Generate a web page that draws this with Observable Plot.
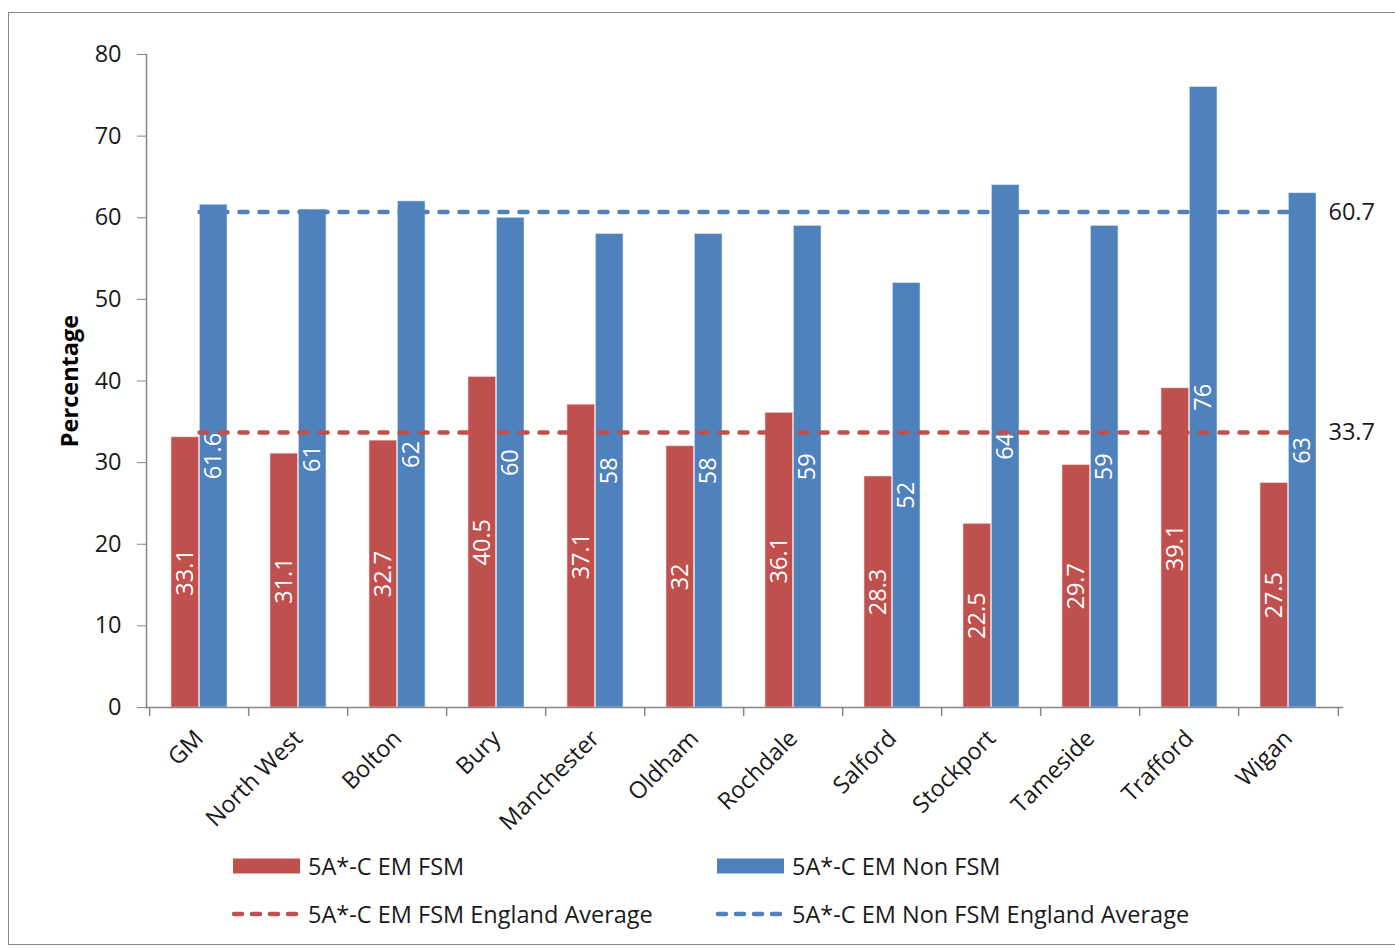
<!DOCTYPE html>
<html>
<head>
<meta charset="utf-8">
<script src="https://cdn.jsdelivr.net/npm/d3@7"></script>
<script src="https://cdn.jsdelivr.net/npm/@observablehq/plot@0.6"></script>
<style>
  html, body { margin: 0; padding: 0; background: #fff; }
  body { width: 1395px; height: 949px; position: relative; overflow: hidden; font-family: "Open Sans", sans-serif; }
  #frame { position: absolute; left: 8px; top: 12px; width: 1400px; height: 933px; border: 1.5px solid #8a8a8a; box-sizing: border-box; }
  #chart { position: absolute; left: 0; top: 0; }
  .leg { position: absolute; display: flex; align-items: center; font-size: 23.5px; color: #1a1a1a; white-space: nowrap; }
  .leg svg { margin-right: 5px; }
</style>
</head>
<body>
<div id="frame"></div>
<div id="chart"></div>
<div id="legend"></div>
<script>
// ---- data ----
const categories = ["GM", "North West", "Bolton", "Bury", "Manchester", "Oldham", "Rochdale", "Salford", "Stockport", "Tameside", "Trafford", "Wigan"];
const fsm = [33.1, 31.1, 32.7, 40.5, 37.1, 32, 36.1, 28.3, 22.5, 29.7, 39.1, 27.5];
const nonFsm = [61.6, 61, 62, 60, 58, 58, 59, 52, 64, 59, 76, 63];
const averages = [33.7, 60.7];
const seriesNames = ["5A*-C EM FSM", "5A*-C EM Non FSM"];
const averageNames = ["5A*-C EM FSM England Average", "5A*-C EM Non FSM England Average"];
const yTicks = [0, 10, 20, 30, 40, 50, 60, 70, 80];
const colors = ["#C0504D", "#4F81BD"];

// ---- layout ----
const W = 1395, H = 830;
const mL = 146, mR = 53, mT = 54, mB = 123;
const step = (W - mL - mR) / categories.length;
const pInner = 0.43;
const bw = step * (1 - pInner);
const pxPerUnit = (H - mT - mB) / 80;
const fs = 23.5;

const rows = categories.map((c, i) => ({cat: c, fsm: fsm[i], non: nonFsm[i]}));
const first = categories[0], last = categories[categories.length - 1];
const avgLines = averages.map((v, k) => [{cat: first, v, k}, {cat: last, v, k}]);

const font = "'Open Sans', sans-serif";

const plot = Plot.plot({
  width: W, height: H,
  marginLeft: mL, marginRight: mR, marginTop: mT, marginBottom: mB,
  style: {fontFamily: font, fontSize: fs + "px", color: "#1a1a1a", background: "transparent", overflow: "visible"},
  x: {type: "band", domain: categories, paddingInner: pInner, paddingOuter: pInner / 2},
  y: {domain: [0, 80]},
  marks: [
    Plot.barY(rows, {x: "cat", y: "fsm", fill: colors[0], insetRight: bw / 2, stroke: "#f2dcdb", strokeWidth: 0.6}),
    Plot.barY(rows, {x: "cat", y: "non", fill: colors[1], insetLeft: bw / 2, stroke: "#dbe5f1", strokeWidth: 0.6}),
    Plot.text(rows, {x: "cat", y: d => d.fsm / 2, text: d => String(d.fsm), rotate: -90, dx: -bw / 4, fill: "#fff", fontSize: fs}),
    Plot.text(rows, {x: "cat", y: d => d.non / 2, text: d => String(d.non), rotate: -90, dx: bw / 4, fill: "#fff", fontSize: fs}),
    ...avgLines.map((pts, k) => Plot.lineY(pts, {x: "cat", y: "v", stroke: colors[k], strokeWidth: 4.5, strokeDasharray: "8,12", strokeLinecap: "round"})),
    Plot.text(averages, {x: () => last, y: d => d, text: d => String(d), dx: 40, textAnchor: "start", fontSize: fs, fill: "#1a1a1a"}),
    Plot.frame({anchor: "left", stroke: "#868686", strokeWidth: 1.5}),
    Plot.frame({anchor: "bottom", stroke: "#868686", strokeWidth: 1.5}),
    Plot.axisY({ticks: yTicks, tickSize: 9, tickPadding: 16, stroke: "#868686", fill: "#1a1a1a", fontSize: fs, label: null, tickFormat: d => String(d)}),
    Plot.ruleX(categories, {x: d => d, y1: 0, y2: -9 / pxPerUnit, dx: -step / 2, stroke: "#868686", strokeWidth: 1.5}),
    Plot.ruleX([last], {x: d => d, y1: 0, y2: -9 / pxPerUnit, dx: step / 2, stroke: "#868686", strokeWidth: 1.5}),
    Plot.axisX({tickSize: 0, tickPadding: 27, tickRotate: -45, fontSize: fs, fill: "#1a1a1a", label: null}),
    Plot.text(["Percentage"], {frameAnchor: "left", textAnchor: "middle", dx: -76, rotate: -90, fontWeight: "bold", fontSize: fs, fill: "#000"})
  ]
});
document.getElementById("chart").appendChild(plot);

// ---- legend ----
const legend = document.getElementById("legend");
const legPos = [[233, 866], [717, 866], [231, 914], [715, 914]];
const items = [
  {name: seriesNames[0], color: colors[0], dashed: false},
  {name: seriesNames[1], color: colors[1], dashed: false},
  {name: averageNames[0], color: colors[0], dashed: true},
  {name: averageNames[1], color: colors[1], dashed: true}
];
items.forEach((it, i) => {
  const div = document.createElement("div");
  div.className = "leg";
  div.style.left = legPos[i][0] + "px";
  div.style.top = (legPos[i][1] - 16) + "px";
  div.style.height = "32px";
  const sw = it.dashed
    ? `<svg width="72" height="16"><line x1="3" x2="70" y1="8" y2="8" stroke="${it.color}" stroke-width="4.5" stroke-dasharray="8,10" stroke-linecap="round"/></svg>`
    : `<svg width="70" height="16"><rect x="0" y="0.5" width="67" height="15" fill="${it.color}"/></svg>`;
  div.innerHTML = sw + `<span>${it.name}</span>`;
  legend.appendChild(div);
});
</script>
</body>
</html>
